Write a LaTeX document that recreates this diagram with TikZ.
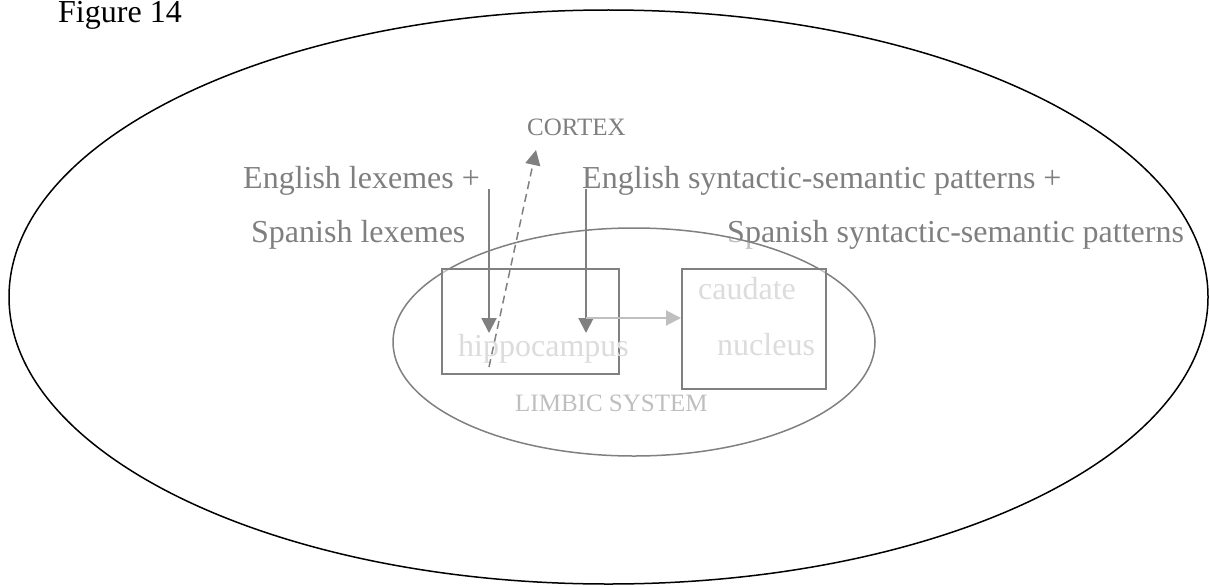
\documentclass[tikz,border=0pt]{standalone}
\usepackage{fontspec}
\setmainfont{Liberation Serif}
\usetikzlibrary{arrows.meta}

\definecolor{linegray}{HTML}{808080}
\definecolor{textgray}{HTML}{7F7F7F}
\definecolor{palegray}{HTML}{DCDCDC}
\definecolor{softgray}{HTML}{BFBFBF}

\begin{document}
\begin{tikzpicture}[x=1pt, y=-1pt]
\tikzset{
  bigtext/.style={inner sep=0pt, anchor=base west, font=\fontsize{32}{38}\selectfont, text=textgray},
  smalltext/.style={inner sep=0pt, anchor=base west, font=\fontsize{25}{30}\selectfont},
  region/.style={draw=linegray, line width=2pt, fill=white, fill opacity=0.5, inner sep=0pt},
  feed/.style={draw=linegray, line width=2pt, -{Triangle[length=15pt, width=15pt]}}
}
\useasboundingbox (0,0) rectangle (1209,586);

% outer ellipse
\draw[line width=1.5pt] (608.5,297) ellipse [x radius=599.5, y radius=287];
\node[bigtext, text=black] (title) at (58,23) {Figure 14};

% labels
\node[smalltext, text=textgray] (cortex) at (527,135) {CORTEX};
\node[bigtext] (englex) at (243,188) {English lexemes +};
\node[bigtext] (spalex) at (251,242) {Spanish lexemes};
\node[bigtext] (engpat) at (582,188) {English syntactic-semantic patterns +};
\node[bigtext] (spapat) at (727,242) {Spanish syntactic-semantic patterns};

% limbic system
\draw[draw=linegray, line width=1.5pt, fill=white, fill opacity=0.5] (634,342) ellipse [x radius=241, y radius=114];
\node[smalltext, text=softgray] (limbic) at (515,411) {LIMBIC SYSTEM};

% boxes
\node[region, minimum width=177pt, minimum height=105pt] (hippo) at (530.5,321.5) {};
\node[region, minimum width=144pt, minimum height=120pt] (caudate) at (754,329) {};
\node[bigtext, text=palegray] (hippolabel) at (458,356) {hippocampus};
\node[bigtext, text=palegray] (caudlabel) at (698,299) {caudate};
\node[bigtext, text=palegray] (nuclabel) at (717,355) {nucleus};

% coordinates
\coordinate (lexin) at (489,189);
\coordinate (lexout) at (489,333);
\coordinate (patin) at (586,189);
\coordinate (patout) at (586,333);
\coordinate (link) at (586,318);
\coordinate (back) at (489,367);
\coordinate (up) at (536,150);

% arrows
\draw[feed] (lexin) -- (lexout);
\draw[feed] (patin) -- (patout);
\draw[feed, draw=softgray] (link) -- (link -| caudate.west);
\draw[feed, line width=1.5pt, dash pattern=on 8pt off 5pt] (back) -- (up);

\end{tikzpicture}
\end{document}
